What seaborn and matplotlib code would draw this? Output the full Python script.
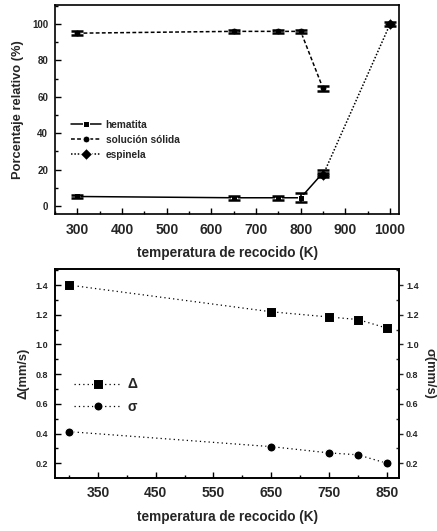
import numpy as np
import pandas as pd
import matplotlib
matplotlib.use("Agg")
import matplotlib.pyplot as plt
import seaborn as sns
from matplotlib.ticker import MultipleLocator

sns.set_theme(style="ticks")
plt.rcParams['font.family'] = ['Liberation Sans', 'DejaVu Sans']
plt.rcParams['font.weight'] = 'bold'

# ---- top panel data ----
temp_top = [300, 650, 750, 800, 850]
hematita = [5.2, 4.5, 4.5, 4.5, 18.3]
hematita_err = [1.0, 1.0, 1.0, 2.5, 1.5]
solida = [95.0, 96.0, 96.0, 96.0, 64.6]
solida_err = [1.0, 1.0, 1.0, 1.0, 1.5]
temp_esp = [850, 1000]
espinela = [17.0, 100.0]
espinela_err = [1.0, 1.0]

# ---- bottom panel data ----
temp_bot = [300, 650, 750, 800, 850]
delta = [1.40, 1.22, 1.185, 1.168, 1.11]
sigma = [0.413, 0.312, 0.27, 0.257, 0.20]

fig = plt.figure(figsize=(4.37, 5.31), dpi=100)
ax1 = fig.add_axes([0.126, 0.5964, 0.787, 0.3942])
ax2 = fig.add_axes([0.126, 0.1004, 0.787, 0.393])

# Top panel
df_h = pd.DataFrame({'T': temp_top, 'v': hematita})
df_s = pd.DataFrame({'T': temp_top, 'v': solida})
df_e = pd.DataFrame({'T': temp_esp, 'v': espinela})
sns.lineplot(data=df_h, x='T', y='v', ax=ax1, color='black', lw=1.1, linestyle='-',
             marker='s', markersize=5, label='hematita')
sns.lineplot(data=df_s, x='T', y='v', ax=ax1, color='black', lw=1.1, linestyle=(0, (2.5, 1.5)),
             marker='o', markersize=5, label='solución sólida')
sns.lineplot(data=df_e, x='T', y='v', ax=ax1, color='black', lw=1.1, linestyle=(0, (1, 1.2)),
             marker='D', markersize=6, label='espinela')
for x, y, e in [(temp_top, hematita, hematita_err), (temp_top, solida, solida_err),
                (temp_esp, espinela, espinela_err)]:
    ax1.errorbar(x, y, yerr=e, fmt='none', ecolor='black', elinewidth=1.2, capsize=4, capthick=1.8)

ax1.set_xlim(250, 1020)
ax1.set_ylim(-4.6, 110.5)
ax1.xaxis.set_major_locator(MultipleLocator(100))
ax1.xaxis.set_minor_locator(MultipleLocator(50))
ax1.yaxis.set_major_locator(MultipleLocator(20))
ax1.yaxis.set_minor_locator(MultipleLocator(10))
ax1.tick_params(axis='both', which='both', direction='in', color='black')
ax1.tick_params(axis='both', which='major', length=4, width=1.0)
ax1.tick_params(axis='both', which='minor', length=2, width=1.0)
ax1.tick_params(axis='x', labelsize=10, pad=6)
ax1.tick_params(axis='y', labelsize=7, pad=5)
ax1.set_xlabel('temperatura de recocido (K)', fontsize=9.8, fontweight='bold', labelpad=7)
ax1.set_ylabel('Porcentaje relativo (%)', fontsize=9.3, fontweight='bold', labelpad=6)
for s in ax1.spines.values():
    s.set_linewidth(1.2)
    s.set_color('black')
leg = ax1.legend(loc='upper left', bbox_to_anchor=(0.02, 0.495), frameon=False,
                 fontsize=7.3, handlelength=3.0, handletextpad=0.4, labelspacing=0.5)
for t in leg.get_texts():
    t.set_fontweight('bold')

# Bottom panel
df_d = pd.DataFrame({'T': temp_bot, 'v': delta})
df_g = pd.DataFrame({'T': temp_bot, 'v': sigma})
sns.lineplot(data=df_d, x='T', y='v', ax=ax2, color='black', lw=0.9, linestyle=(0, (1, 2.5)),
             marker='s', markersize=6.5, label='Δ')
sns.lineplot(data=df_g, x='T', y='v', ax=ax2, color='black', lw=0.9, linestyle=(0, (1, 2.5)),
             marker='o', markersize=6.5, label='σ')
ax2.set_xlim(276, 871)
ax2.set_ylim(0.103, 1.508)
ax2.set_xticks([350, 450, 550, 650, 750, 850])
ax2.xaxis.set_minor_locator(MultipleLocator(50))
ax2.yaxis.set_major_locator(MultipleLocator(0.2))
ax2.yaxis.set_minor_locator(MultipleLocator(0.1))
ax2.tick_params(axis='both', which='both', direction='in', color='black')
ax2.tick_params(axis='both', which='major', length=4, width=1.0)
ax2.tick_params(axis='both', which='minor', length=2, width=1.0)
ax2.tick_params(axis='x', labelsize=10, pad=6)
ax2.tick_params(axis='y', labelsize=6.5, pad=5)
ax2.yaxis.set_major_formatter(matplotlib.ticker.FormatStrFormatter('%.1f'))
ax2.set_xlabel('temperatura de recocido (K)', fontsize=9.8, fontweight='bold', labelpad=7)
ax2.set_ylabel('Δ(mm/s)', fontsize=9.3, fontweight='bold', labelpad=4)
for s in ax2.spines.values():
    s.set_linewidth(1.2)
    s.set_color('black')
leg2 = ax2.legend(loc='upper left', bbox_to_anchor=(0.02, 0.54), frameon=False,
                  fontsize=10, handlelength=3.4, handletextpad=0.4, labelspacing=0.6)
for t in leg2.get_texts():
    t.set_fontweight('bold')

ax3 = ax2.twinx()
ax3.set_ylim(ax2.get_ylim())
ax3.yaxis.set_major_locator(MultipleLocator(0.2))
ax3.yaxis.set_minor_locator(MultipleLocator(0.1))
ax3.yaxis.set_major_formatter(matplotlib.ticker.FormatStrFormatter('%.1f'))
ax3.tick_params(axis='y', which='major', direction='out', length=3, width=1.0, labelsize=6.5, pad=2)
ax3.tick_params(axis='y', which='minor', direction='in', length=2, width=1.0)
ax3.set_ylabel('σ(mm/s)', fontsize=9.3, fontweight='bold', rotation=270, labelpad=12)
for s in ax3.spines.values():
    s.set_linewidth(1.2)
    s.set_color('black')

fig.savefig('out.png', dpi=100)
